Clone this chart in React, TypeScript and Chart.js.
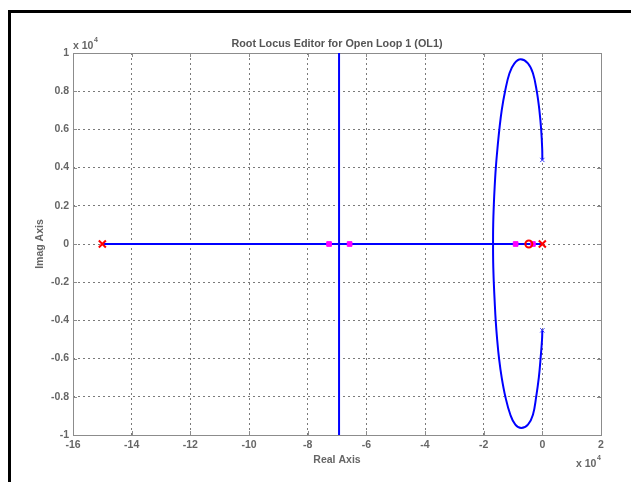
import { useEffect, useRef } from 'react';
import { Chart, registerables } from 'chart.js';

Chart.register(...registerables);

// Tick values (in units of 1e4)
const xTickValues = [-16, -14, -12, -10, -8, -6, -4, -2, 0, 2];
const yTickValues = [-1, -0.8, -0.6, -0.4, -0.2, 0, 0.2, 0.4, 0.6, 0.8, 1];

// Root locus branches (units of 1e4)
const realAxisLocusX = [-15, 0];
const realAxisLocusY = [0, 0];

const asymptoteX = [-6.93, -6.93];
const asymptoteY = [1, -1];

const loopX = [0, -0.005, -0.04, -0.1, -0.19, -0.32, -0.49, -0.74, -0.95, -1.12, -1.27, -1.385, -1.465, -1.53, -1.585, -1.625, -1.655, -1.675, -1.68, -1.675, -1.655, -1.625, -1.59, -1.54, -1.475, -1.385, -1.26, -1.09, -0.92, -0.72, -0.49, -0.32, -0.21, -0.12, -0.06, -0.01, 0];
const loopY = [0.44, 0.5, 0.6, 0.7, 0.8, 0.894, 0.946, 0.967, 0.946, 0.894, 0.8, 0.7, 0.6, 0.5, 0.4, 0.3, 0.2, 0.1, 0, -0.1, -0.2, -0.3, -0.4, -0.5, -0.6, -0.7, -0.8, -0.894, -0.946, -0.964, -0.946, -0.894, -0.8, -0.7, -0.6, -0.5, -0.452];

// Open-loop poles (red x) and zero (red o)
const polesX = [-15, 0];
const polesY = [0, 0];
const zerosX = [-0.46];
const zerosY = [0];

// Closed-loop poles (magenta squares)
const closedLoopX = [-7.27, -6.57, -0.91, -0.32];
const closedLoopY = [0, 0, 0, 0];

// Complex branch end markers (blue x)
const complexX = [0, 0];
const complexY = [0.44, -0.452];

const pts = (xs: number[], ys: number[]) => xs.map((x, i) => ({ x, y: ys[i] }));

const FONT = '"Liberation Sans", Arial, Helvetica, sans-serif';

const decorPlugin = {
  id: 'decor',
  beforeDraw(chart: any) {
    const { ctx, width, height } = chart;
    ctx.save();
    ctx.fillStyle = '#ffffff';
    ctx.fillRect(0, 0, width, height);
    ctx.fillStyle = '#000000';
    ctx.fillRect(8, 10, width - 8, 3);
    ctx.fillRect(8, 10, 3, height - 10);
    ctx.restore();
  },
  beforeDatasetsDraw(chart: any) {
    const { ctx, chartArea } = chart;
    const { left, right, top, bottom } = chartArea;
    const xs = chart.scales.x;
    const ys = chart.scales.y;
    ctx.save();
    ctx.strokeStyle = '#8c8c8c';
    ctx.lineWidth = 1;
    ctx.strokeRect(Math.round(left) + 0.5, Math.round(top) + 0.5, Math.round(right - left), Math.round(bottom - top));
    ctx.beginPath();
    xTickValues.forEach((v) => {
      const px = Math.round(xs.getPixelForValue(v)) + 0.5;
      ctx.moveTo(px, bottom);
      ctx.lineTo(px, bottom - 4);
      ctx.moveTo(px, top);
      ctx.lineTo(px, top + 4);
    });
    yTickValues.forEach((v) => {
      const py = Math.round(ys.getPixelForValue(v)) + 0.5;
      ctx.moveTo(left, py);
      ctx.lineTo(left + 4, py);
      ctx.moveTo(right, py);
      ctx.lineTo(right - 4, py);
    });
    ctx.stroke();
    ctx.restore();
  },
  afterDraw(chart: any) {
    const { ctx } = chart;
    ctx.save();
    ctx.textAlign = 'center';
    ctx.textBaseline = 'middle';
    ctx.fillStyle = '#555555';
    ctx.font = `bold 10.8px ${FONT}`;
    ctx.fillText('Root Locus Editor for Open Loop 1 (OL1)', 337, 44);

    ctx.fillStyle = '#666666';
    ctx.font = `bold 10.5px ${FONT}`;
    ctx.fillText('Real Axis', 337, 460);

    ctx.save();
    ctx.translate(40, 244);
    ctx.rotate(-Math.PI / 2);
    ctx.fillText('Imag Axis', 0, 0);
    ctx.restore();

    // multiplier labels
    ctx.textAlign = 'left';
    ctx.font = `bold 10.5px ${FONT}`;
    ctx.fillText('x 10', 73, 46);
    ctx.fillText('x 10', 576, 464);
    ctx.font = `bold 7px ${FONT}`;
    ctx.fillText('4', 94, 40);
    ctx.fillText('4', 597, 458);
    ctx.restore();
  },
};

export default function App() {
  const canvasRef = useRef<HTMLCanvasElement | null>(null);

  useEffect(() => {
    const canvas = canvasRef.current;
    if (!canvas) return;
    const chart = new Chart(canvas, {
      type: 'scatter',
      data: {
        datasets: [
          {
            label: 'Poles',
            data: pts(polesX, polesY),
            showLine: false,
            pointStyle: 'crossRot',
            pointRadius: 5,
            borderColor: '#ff0000',
            backgroundColor: '#ff0000',
            borderWidth: 2,
            order: 0,
          },
          {
            label: 'Zero',
            data: pts(zerosX, zerosY),
            showLine: false,
            pointStyle: 'circle',
            pointRadius: 3.5,
            borderColor: '#ff0000',
            backgroundColor: 'rgba(0,0,0,0)',
            borderWidth: 2,
            order: 1,
          },
          {
            label: 'Closed loop',
            data: pts(closedLoopX, closedLoopY),
            showLine: false,
            pointStyle: 'rect',
            pointRadius: 3.3,
            borderColor: '#ff00ff',
            backgroundColor: '#ff00ff',
            borderWidth: 1,
            order: 2,
          },
          {
            label: 'Complex',
            data: pts(complexX, complexY),
            showLine: false,
            pointStyle: 'crossRot',
            pointRadius: 3,
            borderColor: '#3030ff',
            backgroundColor: '#3030ff',
            borderWidth: 1,
            order: 3,
          },
          {
            label: 'Loop',
            data: pts(loopX, loopY),
            showLine: true,
            tension: 0.4,
            pointRadius: 0,
            borderColor: '#0000ff',
            borderWidth: 2,
            order: 4,
          },
          {
            label: 'Asymptote',
            data: pts(asymptoteX, asymptoteY),
            showLine: true,
            pointRadius: 0,
            borderColor: '#0000ff',
            borderWidth: 2,
            order: 5,
          },
          {
            label: 'Real axis',
            data: pts(realAxisLocusX, realAxisLocusY),
            showLine: true,
            pointRadius: 0,
            borderColor: '#0000ff',
            borderWidth: 2,
            order: 6,
          },
        ],
      },
      options: {
        responsive: false,
        animation: false,
        devicePixelRatio: 1,
        layout: { padding: { left: 0, top: 53, right: 30, bottom: 0 } },
        plugins: {
          legend: { display: false },
          title: { display: false },
          tooltip: { enabled: false },
        },
        scales: {
          x: {
            type: 'linear',
            min: -16,
            max: 2,
            afterBuildTicks: (s: any) => {
              s.ticks = xTickValues.map((v) => ({ value: v }));
            },
            afterFit: (s: any) => {
              s.height = 47;
            },
            grid: { color: '#7a7a7a', lineWidth: 1, drawTicks: false },
            border: { display: false, dash: [2, 3] },
            ticks: {
              padding: 4,
              maxRotation: 0,
              autoSkip: false,
              color: '#666666',
              font: { family: FONT, size: 10.5, weight: 'bold' },
              callback: (v: any) => String(Number(Number(v).toFixed(1))),
            },
          },
          y: {
            type: 'linear',
            min: -1,
            max: 1,
            afterBuildTicks: (s: any) => {
              s.ticks = yTickValues.map((v) => ({ value: v }));
            },
            afterFit: (s: any) => {
              s.width = 73;
            },
            grid: { color: '#7a7a7a', lineWidth: 1, drawTicks: false },
            border: { display: false, dash: [2, 3] },
            ticks: {
              padding: 4,
              autoSkip: false,
              color: '#666666',
              font: { family: FONT, size: 10.5, weight: 'bold' },
              callback: (v: any) => String(Number(Number(v).toFixed(1))),
            },
          },
        },
      },
      plugins: [decorPlugin],
    });
    return () => chart.destroy();
  }, []);

  return (
    <div style={{ position: 'fixed', left: 0, top: 0, width: 631, height: 482, background: '#fff' }}>
      <canvas ref={canvasRef} width={631} height={482} style={{ display: 'block', width: 631, height: 482 }} />
    </div>
  );
}
